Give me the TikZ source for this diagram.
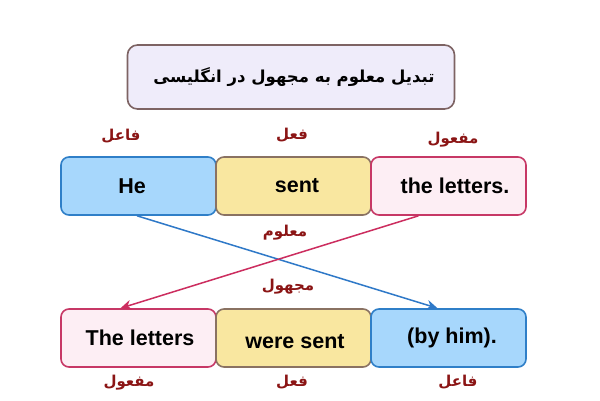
\documentclass[tikz,border=0pt]{standalone}
\usepackage{fontspec}
\setmainfont{Liberation Sans}
\newfontfamily\arabicfont[Script=Arabic]{DejaVu Sans}
\TeXXeTstate=1
\usetikzlibrary{arrows.meta}
\definecolor{titlefill}{HTML}{EFECFA}
\definecolor{titledraw}{HTML}{7D6363}
\definecolor{bluefill}{HTML}{A7D7FC}
\definecolor{bluedraw}{HTML}{2F7FC8}
\definecolor{yelfill}{HTML}{F9E7A0}
\definecolor{yeldraw}{HTML}{8A7262}
\definecolor{pinkfill}{HTML}{FDEEF4}
\definecolor{pinkdraw}{HTML}{C73866}
\definecolor{labred}{HTML}{8B1515}
\definecolor{bluearrow}{HTML}{2F79C8}
\definecolor{pinkarrow}{HTML}{CC2D5F}
\tikzset{
  wordbox/.style={rounded corners=8pt, line width=1.6pt, minimum width=155pt, minimum height=58pt, inner sep=0pt},
  bluebox/.style={wordbox, fill=bluefill, draw=bluedraw},
  yelbox/.style={wordbox, fill=yelfill, draw=yeldraw},
  pinkbox/.style={wordbox, fill=pinkfill, draw=pinkdraw},
  arlabel/.style={text=labred, inner sep=0pt, font=\arabicfont\bfseries\fontsize{15}{18}\selectfont},
  txt/.style={inner sep=0pt, anchor=center, font=\fontsize{21.5}{26}\selectfont\bfseries},
  arr/.style={line width=1.5pt, -{Stealth[length=11pt,width=10pt]}}
}
\begin{document}
\begin{tikzpicture}[x=1pt,y=-1pt]
\useasboundingbox (0,0) rectangle (600,400);
\fill[white] (0,0) rectangle (600,400);
% title
\node[draw=titledraw, fill=titlefill, line width=1.6pt, rounded corners=10pt, minimum width=327pt, minimum height=64pt] (title) at (291,77) {};
\node[inner sep=0pt, font=\arabicfont\bfseries\fontsize{16.5}{20}\selectfont] (titletext) at (294,77) {\beginR تبدیل معلوم به مجهول در انگلیسی\endR};
% top row
\node[bluebox] (he) at (138.5,186) {};
\node[yelbox] (sent) at (293.5,186) {};
\node[pinkbox] (letters) at (448.5,186) {};
\node[txt] (het) at (132,186) {He};
\node[txt] (sentt) at (297,186) {sent};
\node[txt] (letterst) at (455,186) {the letters.};
% bottom row
\node[pinkbox] (The) at (138.5,338) {};
\node[yelbox] (were) at (293.5,338) {};
\node[bluebox] (byhim) at (448.5,338) {};
\node[txt] (Thet) at (140,338) {The letters};
\node[txt] (weret) at (295,342) {were sent};
\node[txt] (byhimt) at (452,338) {(by him).};
% labels
\node[arlabel] (l1) at (121,136) {\beginR فاعل\endR};
\node[arlabel] (l2) at (292,135) {\beginR فعل\endR};
\node[arlabel] (l3) at (453,140) {\beginR مفعول\endR};
\node[arlabel] (l4) at (129,383) {\beginR مفعول\endR};
\node[arlabel] (l5) at (292,382) {\beginR فعل\endR};
\node[arlabel] (l6) at (458,382) {\beginR فاعل\endR};
\node[arlabel] (m1) at (285,233) {\beginR معلوم\endR};
\node[arlabel] (m2) at (288,287) {\beginR مجهول\endR};
% arrows
\draw[arr, draw=bluearrow, fill=bluearrow] ([xshift=-1.5pt]he.south) -- ([xshift=-11pt]byhim.north);
\draw[arr, draw=pinkarrow, fill=pinkarrow] ([xshift=-30pt]letters.south) -- ([xshift=-18pt]The.north);
\end{tikzpicture}
\end{document}
